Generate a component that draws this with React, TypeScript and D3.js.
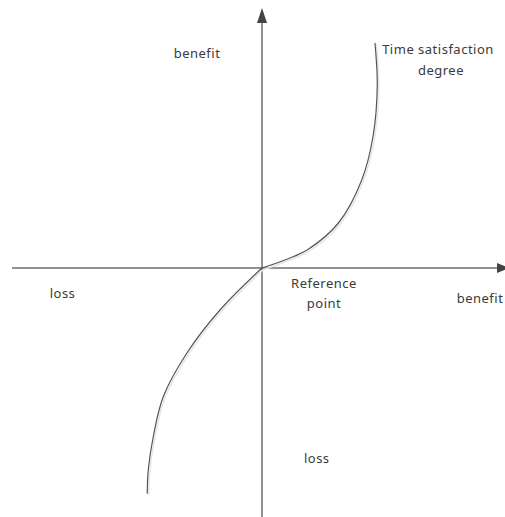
import React from 'react';
import * as d3 from 'd3';

// curve points in axis units (origin = reference point)
const gainX = [0, 0.105, 0.185, 0.305, 0.399, 0.445, 0.461, 0.452];
const gainY = [0, 0.037, 0.075, 0.179, 0.352, 0.532, 0.732, 0.899];
const lossX = [0, -0.168, -0.301, -0.395, -0.435, -0.455, -0.459];
const lossY = [0, -0.168, -0.341, -0.515, -0.675, -0.808, -0.901];

const quadrantLabels = [
  { text: 'benefit', x: -0.26, y: 0.86 },
  { text: 'loss', x: -0.798, y: -0.101 },
  { text: 'benefit', x: 0.872, y: -0.12 },
  { text: 'loss', x: 0.219, y: -0.761 },
];

const W = 505;
const H = 517;

export default function App() {
  const x = d3.scaleLinear().domain([-1, 1]).range([12, 512]);
  const y = d3.scaleLinear().domain([-1, 1]).range([518, 18]);

  const line = d3
    .line<[number, number]>()
    .x((d) => x(d[0]))
    .y((d) => y(d[1]))
    .curve(d3.curveCatmullRom.alpha(0.5));

  const gain = line(gainX.map((v, i) => [v, gainY[i]]) as [number, number][]) || '';
  const loss = line(lossX.map((v, i) => [v, lossY[i]]) as [number, number][]) || '';

  const x0 = x(0);
  const y0 = y(0);
  const axisColor = '#6e6e6e';
  const font = "'Noto Sans', sans-serif";

  return (
    <svg
      width={W}
      height={H}
      style={{ position: 'absolute', left: 0, top: 0, background: '#fff' }}
      fontFamily={font}
      fontSize={13}
      letterSpacing={0.5}
    >
      {/* horizontal axis */}
      <line x1={12} y1={y0} x2={498} y2={y0} stroke={axisColor} strokeWidth={1.5} />
      <path d={`M${W + 4},${y0} L${497},${y0 - 5} L${497},${y0 + 5} Z`} fill="#444" />
      {/* vertical axis */}
      <line x1={x0} y1={H} x2={x0} y2={22} stroke={axisColor} strokeWidth={1.5} />
      <path d={`M${x0},${8} L${x0 - 5},${23} L${x0 + 5},${23} Z`} fill="#444" />

      {/* curve shadow + curve */}
      <g fill="none" strokeLinecap="round">
        <path d={gain} stroke="#e6e6e6" strokeWidth={1.5} transform="translate(1.5,1.5)" />
        <path d={loss} stroke="#e6e6e6" strokeWidth={1.5} transform="translate(1.5,1.5)" />
        <path d={gain} stroke="#555" strokeWidth={1.2} />
        <path d={loss} stroke="#555" strokeWidth={1.2} />
      </g>

      <g fill="#3a3a3a" textAnchor="middle" dominantBaseline="central">
        {quadrantLabels.map((l, i) => (
          <text key={i} x={x(l.x)} y={y(l.y)}>
            {l.text}
          </text>
        ))}
        <text x={324} y={283}>Reference</text>
        <text x={324} y={303}>point</text>
        <text x={438} y={49}>Time satisfaction</text>
        <text x={441} y={70}>degree</text>
      </g>
    </svg>
  );
}
